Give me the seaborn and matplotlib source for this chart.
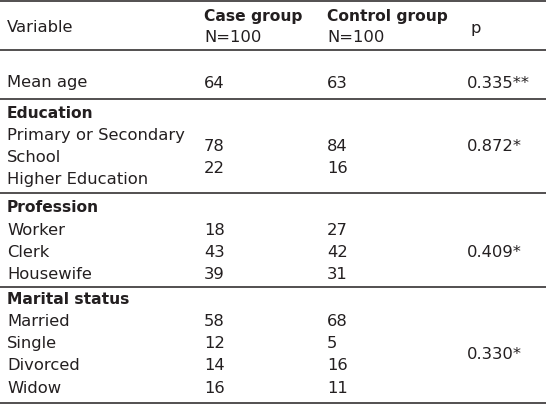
import seaborn as sns
import matplotlib.pyplot as plt

# table content
header = ["Variable", "Case group", "Control group", "p"]
group_n = ["N=100", "N=100"]

age_label = "Mean age"
age_case = 64
age_control = 63
age_p = "0.335**"

education_labels = ["Primary or Secondary\nSchool", "Higher Education"]
education_case = [78, 22]
education_control = [84, 16]
education_p = "0.872*"

profession_labels = ["Worker", "Clerk", "Housewife"]
profession_case = [18, 43, 39]
profession_control = [27, 42, 31]
profession_p = "0.409*"

marital_labels = ["Married", "Single", "Divorced", "Widow"]
marital_case = [58, 12, 14, 16]
marital_control = [68, 5, 16, 11]
marital_p = "0.330*"

sections = ["Education", "Profession", "Marital status"]

sns.set_theme(style="white")
plt.rcParams["font.family"] = ["DejaVu Sans"]

ink = "#231f20"
fs = 11.8
fs_bold = 11.2
col_x = [7, 204, 327, 467]
pitch = 22.3

fig = plt.figure(figsize=(5.46, 4.04), dpi=100)
ax = fig.add_axes([0, 0, 1, 1])
ax.set_xlim(0, 546)
ax.set_ylim(404, 0)
ax.axis("off")


def put(x, y, s, bold=False):
    ax.text(x, y, str(s), fontsize=fs_bold if bold else fs, color=ink,
            va="center", ha="left",
            fontweight="bold" if bold else "normal")


# rules
for y in [1, 49.5, 99, 193, 287, 403]:
    ax.axhline(y, color=ink, lw=1.1)

# header
put(col_x[0], 27, header[0])
put(col_x[1], 16, header[1], bold=True)
put(col_x[2], 16, header[2], bold=True)
put(col_x[1], 38, group_n[0])
put(col_x[2], 38, group_n[1])
put(col_x[3] + 4, 29, header[3])

# mean age
put(col_x[0], 83, age_label)
put(col_x[1], 83, age_case)
put(col_x[2], 83, age_control)
put(col_x[3], 83, age_p)

# education: label lines run one per row, values sit between
put(col_x[0], 113, sections[0], bold=True)
y0 = 113 + pitch
label_lines = [ln for lab in education_labels for ln in lab.split("\n")]
for i, ln in enumerate(label_lines):
    put(col_x[0], y0 + i * pitch, ln)
for i in range(len(education_case)):
    put(col_x[1], y0 + pitch / 2 + i * pitch, education_case[i])
    put(col_x[2], y0 + pitch / 2 + i * pitch, education_control[i])
put(col_x[3], y0 + pitch / 2, education_p)

# profession
put(col_x[0], 208, sections[1], bold=True)
y0 = 208 + pitch
for i, lab in enumerate(profession_labels):
    put(col_x[0], y0 + i * pitch, lab)
    put(col_x[1], y0 + i * pitch, profession_case[i])
    put(col_x[2], y0 + i * pitch, profession_control[i])
put(col_x[3], y0 + pitch, profession_p)

# marital status
put(col_x[0], 299, sections[2], bold=True)
y0 = 299 + pitch
for i, lab in enumerate(marital_labels):
    put(col_x[0], y0 + i * pitch, lab)
    put(col_x[1], y0 + i * pitch, marital_case[i])
    put(col_x[2], y0 + i * pitch, marital_control[i])
put(col_x[3], y0 + 1.5 * pitch, marital_p)

fig.savefig("out.png", dpi=100)
